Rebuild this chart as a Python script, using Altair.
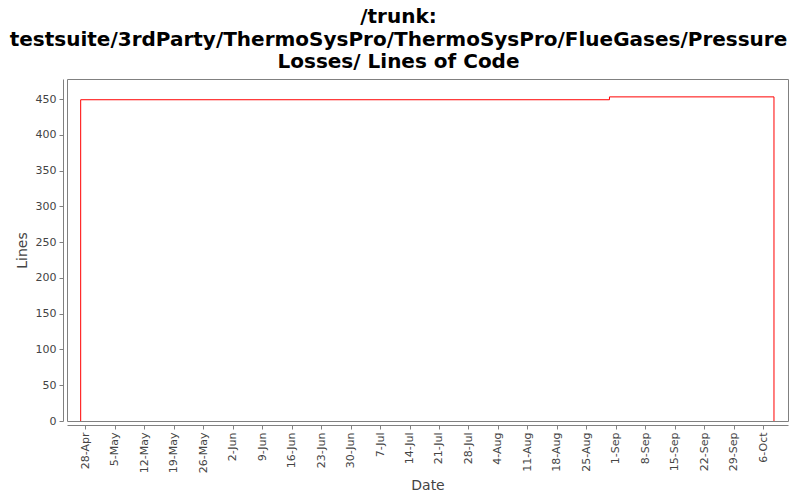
import altair as alt
import pandas as pd

# Lines of code history
commit_dates = ["2009-04-26T21:00", "2009-04-26T21:00", "2009-08-30T12:00", "2009-10-08T14:00"]
loc_values = [0, 449, 453, 0]

tick_dates = ["2009-04-28", "2009-05-05", "2009-05-12", "2009-05-19", "2009-05-26",
              "2009-06-02", "2009-06-09", "2009-06-16", "2009-06-23", "2009-06-30",
              "2009-07-07", "2009-07-14", "2009-07-21", "2009-07-28", "2009-08-04",
              "2009-08-11", "2009-08-18", "2009-08-25", "2009-09-01", "2009-09-08",
              "2009-09-15", "2009-09-22", "2009-09-29", "2009-10-06"]
y_ticks = [0, 50, 100, 150, 200, 250, 300, 350, 400, 450]

title_lines = ["/trunk:",
               "testsuite/3rdParty/ThermoSysPro/ThermoSysPro/FlueGases/Pressure",
               "Losses/ Lines of Code"]

df = pd.DataFrame({"date": commit_dates, "lines": loc_values})
df["idx"] = range(len(df))

font = "DejaVu Sans"

chart = alt.Chart(df).mark_line(
    interpolate="step-after", color="#ff0000", strokeWidth=1, clip=True
).encode(
    x=alt.X("date:T", title="Date",
            scale=alt.Scale(domain=["2009-04-23T15:00", "2009-10-11T22:00"]),
            axis=alt.Axis(values=tick_dates, format="%-d-%b", labelAngle=270,
                          labelAlign="right", labelBaseline="middle",
                          grid=False, offset=4, labelOverlap=False)),
    y=alt.Y("lines:Q", title="Lines",
            scale=alt.Scale(domain=[0, 478], nice=False, zero=True),
            axis=alt.Axis(values=y_ticks, grid=False, offset=4)),
    order=alt.Order("idx:Q"),
).properties(
    width=721,
    height=342,
    autosize=alt.AutoSizeParams(type="none"),
    padding={"left": 59, "top": 71, "right": 4, "bottom": 76},
    title=alt.TitleParams(title_lines, anchor="middle", dx=-29, offset=7,
                          font=font, fontSize=20, fontWeight="bold",
                          lineHeight=22.5, color="#000000"),
).configure_view(
    stroke="#808080", strokeWidth=1
).configure_axis(
    domainColor="#808080", tickColor="#808080", tickSize=4,
    labelFont=font, labelFontSize=11, labelColor="#444444",
    titleFont=font, titleFontSize=14, titleFontWeight="normal", titleColor="#444444",
    labelPadding=3, titlePadding=6,
)

chart.save("out.html", embed_options={"renderer": "svg", "actions": False})
